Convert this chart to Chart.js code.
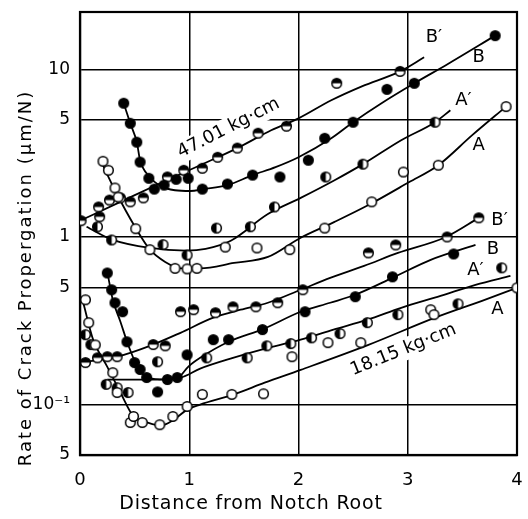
<!DOCTYPE html>
<html>
<head>
<meta charset="utf-8">
<script src="https://cdn.jsdelivr.net/npm/chart.js@4.4.1/dist/chart.umd.min.js"></script>
<style>
    html, body { margin: 0; padding: 0; background: #fff; }
</style>
</head>
<body>
<canvas id="chart" width="528" height="519"></canvas>
<script>
// 47.01 kg·cm group
const aPts47 = [[0.21,2.83],[0.26,2.50],[0.32,1.96],[0.35,1.73],[0.51,1.12],[0.64,0.84],[0.87,0.65],[0.98,0.645],[1.07,0.65],[1.33,0.87],[1.62,0.86],[1.92,0.84],[2.24,1.13],[2.67,1.62],[2.96,2.44],[3.28,2.68],[3.90,6.0]];
const aFit47 = [[0.18,2.95],[0.32,1.90],[0.51,1.13],[0.64,0.84],[0.78,0.71],[0.92,0.65],[1.10,0.65],[1.41,0.70],[1.72,0.76],[2.02,0.99],[2.33,1.23],[2.64,1.55],[3.01,2.12],[3.28,2.68],[3.59,4.05],[3.90,6.0]];
const apPts47 = [[0.16,1.15],[0.29,0.96],[0.76,0.90],[0.98,0.78],[1.25,1.13],[1.56,1.15],[1.78,1.51],[2.25,2.28],[2.59,2.72],[3.25,4.84]];
const apFit47 = [[0.06,1.15],[0.30,0.96],[0.64,0.86],[0.97,0.83],[1.15,0.85],[1.38,0.95],[1.72,1.37],[2.02,1.71],[2.33,2.18],[2.59,2.72],[2.94,3.78],[3.25,4.84],[3.39,5.70]];
const bPts47 = [[0.40,6.28],[0.46,4.77],[0.52,3.68],[0.55,2.80],[0.63,2.24],[0.68,1.93],[0.77,2.04],[0.88,2.21],[0.99,2.24],[1.12,1.93],[1.35,2.07],[1.58,2.34],[1.83,2.28],[2.09,2.87],[2.24,3.88],[2.50,4.84],[2.81,7.6],[3.06,8.26],[3.80,15.9]];
const bFit47 = [[0.40,6.28],[0.46,4.77],[0.52,3.68],[0.55,2.87],[0.63,2.31],[0.74,2.01],[0.87,1.90],[1.01,1.88],[1.13,1.93],[1.35,2.04],[1.58,2.34],[1.79,2.61],[2.00,2.99],[2.30,3.88],[2.50,4.84],[2.76,6.28],[3.06,8.26],[3.36,10.7],[3.80,15.9]];
const bpPts47 = [[0.01,1.25],[0.17,1.51],[0.18,1.32],[0.27,1.66],[0.37,1.71],[0.46,1.62],[0.58,1.71],[0.80,2.28],[0.95,2.50],[1.12,2.57],[1.26,2.99],[1.44,3.39],[1.63,4.16],[1.89,4.58],[2.35,8.26],[2.93,9.73]];
const bpFit47 = [[0,1.25],[0.37,1.62],[0.74,2.10],[1.10,2.68],[1.44,3.39],[1.75,4.33],[2.00,5.1],[2.30,6.54],[2.58,7.92],[2.93,9.73],[3.15,11.8]];

// 18.15 kg·cm group
const aPts18 = [[0.05,0.422],[0.08,0.308],[0.14,0.227],[0.30,0.155],[0.34,0.118],[0.46,0.0781],[0.49,0.0849],[0.57,0.0781],[0.73,0.0758],[0.85,0.0849],[0.98,0.0974],[1.12,0.115],[1.39,0.115],[1.68,0.116],[1.94,0.193],[2.27,0.234],[2.57,0.234],[3.21,0.368],[3.24,0.344],[4.0,0.497]];
const aFit18 = [[0.03,0.405],[0.12,0.244],[0.25,0.168],[0.37,0.118],[0.49,0.0849],[0.62,0.0781],[0.74,0.075],[0.86,0.0814],[0.98,0.0933],[1.10,0.100],[1.41,0.115],[1.69,0.135],[2.02,0.161],[2.64,0.227],[3.25,0.330],[3.68,0.416],[4.0,0.497]];
const apPts18 = [[0.05,0.261],[0.10,0.228],[0.24,0.132],[0.34,0.126],[0.44,0.118],[0.71,0.180],[1.16,0.190],[1.53,0.190],[1.71,0.224],[1.93,0.231],[2.12,0.250],[2.38,0.265],[2.63,0.308],[2.91,0.344],[3.46,0.399],[3.86,0.654]];
const apFit18 = [[0.25,0.141],[0.64,0.141],[0.92,0.145],[1.10,0.164],[1.40,0.190],[1.72,0.218],[2.02,0.244],[2.32,0.280],[2.63,0.321],[2.94,0.378],[3.30,0.445],[3.62,0.518],[3.94,0.586]];
const bPts18 = [[0.25,0.610],[0.29,0.484],[0.32,0.405],[0.39,0.358],[0.43,0.237],[0.50,0.178],[0.55,0.162],[0.61,0.145],[0.71,0.119],[0.80,0.141],[0.89,0.145],[0.98,0.198],[1.22,0.244],[1.36,0.244],[1.67,0.280],[2.06,0.358],[2.52,0.440],[2.86,0.578],[3.42,0.792]];
const bFit18 = [[0.25,0.619],[0.30,0.422],[0.37,0.312],[0.44,0.228],[0.53,0.166],[0.62,0.145],[0.78,0.141],[0.90,0.145],[0.99,0.168],[1.10,0.190],[1.36,0.237],[1.68,0.283],[2.02,0.358],[2.29,0.405],[2.52,0.452],[2.86,0.570],[3.21,0.730],[3.62,0.896]];
const bpPts18 = [[0.05,0.178],[0.16,0.190],[0.25,0.193],[0.34,0.193],[0.67,0.228],[0.78,0.224],[0.92,0.358],[1.04,0.368],[1.24,0.353],[1.40,0.383],[1.61,0.383],[1.81,0.405],[2.04,0.484],[2.64,0.803],[2.89,0.896],[3.36,1.0],[3.65,1.30]];
const bpFit18 = [[0,0.178],[0.34,0.193],[0.64,0.224],[0.92,0.268],[1.22,0.330],[1.47,0.368],[1.72,0.405],[2.02,0.484],[2.29,0.570],[2.60,0.672],[2.91,0.803],[3.35,1.0],[3.65,1.30]];

const yTicks = [0.05, 0.1, 0.5, 1, 5, 10];
const yTickLabels = ["5", "10\u207B\u00B9", "5", "1", "5", "10"];
const xTicks = [0, 1, 2, 3, 4];

const xTitle = "Distance from Notch Root";
const yTitle = "Rate of Crack Propergation (\u03BCm/N)";

const curveLabels = [
    { text: "B\u2032", x: 3.24, y: 15.5 },
    { text: "B", x: 3.65, y: 11.8 },
    { text: "A\u2032", x: 3.51, y: 6.5 },
    { text: "A", x: 3.65, y: 3.53 },
    { text: "B\u2032", x: 3.84, y: 1.26 },
    { text: "B", x: 3.78, y: 0.84 },
    { text: "A\u2032", x: 3.62, y: 0.63 },
    { text: "A", x: 3.82, y: 0.37 }
];
const loadLabels = [
    { text: "47.01 kg\u00B7cm", x: 1.36, y: 4.46, angle: -27 },
    { text: "18.15 kg\u00B7cm", x: 2.96, y: 0.212, angle: -22 }
];

const FONT = "'DejaVu Sans', sans-serif";

function makeMarker(kind) {
    const size = 13, r = 4.8;
    const c = document.createElement("canvas");
    c.width = size;
    c.height = size;
    const g = c.getContext("2d");
    const m = size / 2;
    g.fillStyle = "#fff";
    g.beginPath(); g.arc(m, m, r, 0, Math.PI * 2); g.fill();
    g.fillStyle = "#000";
    if (kind === "full") {
        g.beginPath(); g.arc(m, m, r, 0, Math.PI * 2); g.fill();
    } else if (kind === "left") {
        g.beginPath(); g.arc(m, m, r, Math.PI / 2, Math.PI * 1.5); g.closePath(); g.fill();
    } else if (kind === "top") {
        g.beginPath(); g.arc(m, m, r, Math.PI, Math.PI * 2); g.closePath(); g.fill();
    }
    g.lineWidth = 1.5;
    g.strokeStyle = "#000";
    g.beginPath(); g.arc(m, m, r, 0, Math.PI * 2); g.stroke();
    return c;
}

const markers = {
    open: makeMarker("open"),
    full: makeMarker("full"),
    left: makeMarker("left"),
    top: makeMarker("top")
};

const toXY = arr => arr.map(p => ({ x: p[0], y: p[1] }));

function fitSet(data) {
    return {
        data: toXY(data),
        showLine: true,
        borderColor: "#000",
        borderWidth: 1.8,
        pointRadius: 0,
        cubicInterpolationMode: "monotone",
        order: 2
    };
}

function pointSet(data, marker) {
    return {
        data: toXY(data),
        showLine: false,
        pointStyle: markers[marker],
        pointRadius: 5,
        order: 1
    };
}

const textPlugin = {
    id: "textPlugin",
    beforeDatasetsDraw(chart) {
        const ctx = chart.ctx;
        const xs = chart.scales.x, ys = chart.scales.y;
        ctx.save();
        ctx.font = `18px ${FONT}`;
        for (const l of loadLabels) {
            const w = ctx.measureText(l.text).width;
            ctx.save();
            ctx.translate(xs.getPixelForValue(l.x), ys.getPixelForValue(l.y));
            ctx.rotate(l.angle * Math.PI / 180);
            ctx.fillStyle = "#fff";
            ctx.fillRect(-w / 2 - 3, -11, w + 6, 22);
            ctx.restore();
        }
        const a = chart.chartArea;
        ctx.strokeStyle = "#000";
        ctx.lineWidth = 2.2;
        ctx.strokeRect(a.left, a.top, a.right - a.left, a.bottom - a.top);
        ctx.restore();
    },
    afterDatasetsDraw(chart) {
        const ctx = chart.ctx;
        const xs = chart.scales.x, ys = chart.scales.y;
        ctx.save();
        ctx.fillStyle = "#000";
        ctx.textAlign = "center";
        ctx.textBaseline = "middle";
        ctx.font = `18px ${FONT}`;
        for (const l of curveLabels) {
            ctx.fillText(l.text, xs.getPixelForValue(l.x), ys.getPixelForValue(l.y));
        }
        for (const l of loadLabels) {
            ctx.save();
            ctx.translate(xs.getPixelForValue(l.x), ys.getPixelForValue(l.y));
            ctx.rotate(l.angle * Math.PI / 180);
            ctx.fillText(l.text, 0, 0);
            ctx.restore();
        }
        // axis titles, spaced out like the scan
        ctx.font = `19px ${FONT}`;
        ctx.letterSpacing = "0.8px";
        ctx.fillText(xTitle, 251, 504);
        ctx.font = `18px ${FONT}`;
        ctx.save();
        ctx.translate(26, 278);
        ctx.rotate(-Math.PI / 2);
        ctx.letterSpacing = "2px";
        ctx.fillText(yTitle, 0, 0);
        ctx.restore();
        ctx.restore();
    }
};

new Chart(document.getElementById("chart"), {
    type: "scatter",
    data: {
        datasets: [
            fitSet(aFit47), fitSet(apFit47), fitSet(bFit47), fitSet(bpFit47),
            fitSet(aFit18), fitSet(apFit18), fitSet(bFit18), fitSet(bpFit18),
            pointSet(aPts47, "open"), pointSet(apPts47, "left"),
            pointSet(bPts47, "full"), pointSet(bpPts47, "top"),
            pointSet(aPts18, "open"), pointSet(apPts18, "left"),
            pointSet(bPts18, "full"), pointSet(bpPts18, "top")
        ]
    },
    options: {
        responsive: false,
        animation: false,
        layout: { padding: { top: 12, right: 11, left: 0, bottom: 0 } },
        plugins: {
            legend: { display: false },
            tooltip: { enabled: false }
        },
        scales: {
            x: {
                type: "linear",
                min: 0,
                max: 4,
                afterBuildTicks: scale => { scale.ticks = xTicks.map(v => ({ value: v })); },
                afterFit: scale => {
                    scale.height = 64;
                    scale.paddingLeft = 0;
                    scale.paddingRight = 0;
                },
                ticks: {
                    color: "#000",
                    font: { family: FONT, size: 18 },
                    padding: 15
                },
                grid: { color: "#000", lineWidth: 1.5, drawTicks: false },
                border: { color: "#000", width: 2.2 }
            },
            y: {
                type: "logarithmic",
                min: 0.05,
                max: 22,
                afterBuildTicks: scale => { scale.ticks = yTicks.map(v => ({ value: v })); },
                afterFit: scale => {
                    scale.width = 80;
                    scale.paddingTop = 0;
                    scale.paddingBottom = 0;
                },
                ticks: {
                    color: "#000",
                    font: { family: FONT, size: 17 },
                    padding: 10,
                    callback: value => {
                        const i = yTicks.indexOf(value);
                        return i >= 0 ? yTickLabels[i] : "";
                    }
                },
                grid: { color: "#000", lineWidth: 1.5, drawTicks: false },
                border: { color: "#000", width: 2.2 }
            }
        }
    },
    plugins: [textPlugin]
});
</script>
</body>
</html>
